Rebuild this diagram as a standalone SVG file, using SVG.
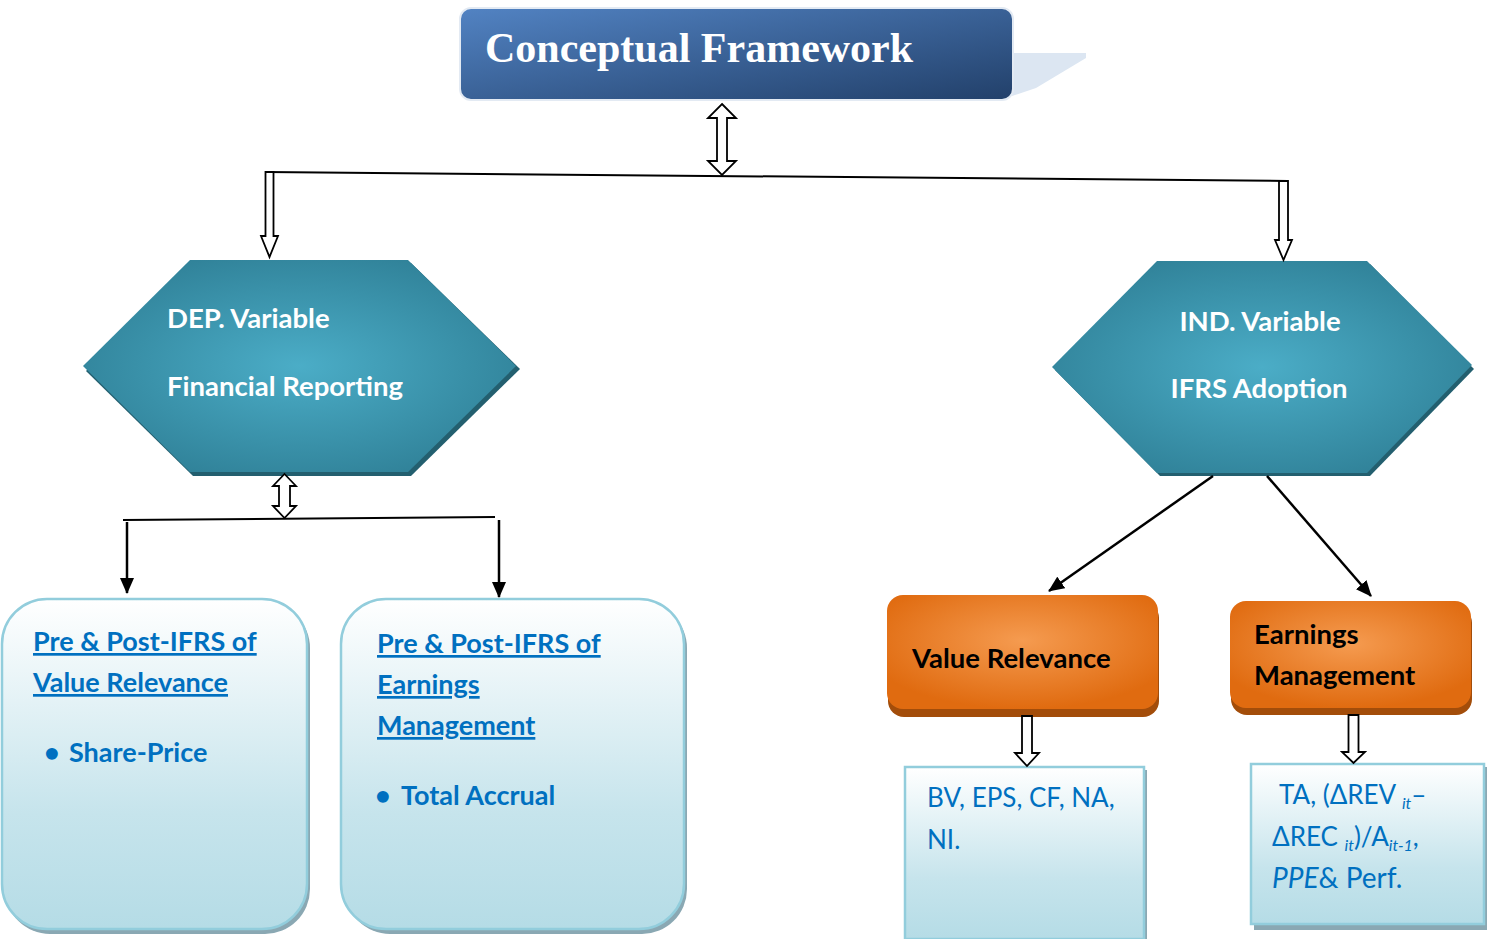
<svg xmlns="http://www.w3.org/2000/svg" width="1491" height="939" viewBox="0 0 1491 939">
<defs>
<linearGradient id="gTitle" x1="0" y1="0" x2="1" y2="1">
<stop offset="0" stop-color="#5283c3"/><stop offset="1" stop-color="#22406a"/>
</linearGradient>
<radialGradient id="gHex" cx="0.5" cy="0.5" r="0.55">
<stop offset="0" stop-color="#4badc7"/><stop offset="1" stop-color="#31839a"/>
</radialGradient>
<radialGradient id="gOr" cx="0.5" cy="0.4" r="0.6">
<stop offset="0" stop-color="#f59b50"/><stop offset="1" stop-color="#e06b10"/>
</radialGradient>
<linearGradient id="gBox" x1="0" y1="0" x2="0" y2="1">
<stop offset="0" stop-color="#ffffff"/><stop offset="0.65" stop-color="#c6e4ec"/><stop offset="1" stop-color="#b5dce6"/>
</linearGradient>
<marker id="ah" markerUnits="userSpaceOnUse" markerWidth="16" markerHeight="14" viewBox="0 0 16 14" refX="15" refY="7" orient="auto">
<path d="M0,0 L16,7 L0,14 z" fill="#000"/>
</marker>
<style>
.hex{fill:url(#gHex)}
.hexsh{fill:#235f6f}
.ht{font-family:Lato,"Open Sans",sans-serif;font-weight:bold;font-size:27.5px;fill:#ffffff}
.bt{font-family:Lato,"Open Sans",sans-serif;font-weight:bold;font-size:27px;fill:#0070c0}
.rt{font-family:Lato,"Open Sans",sans-serif;font-size:26px;fill:#0070c0}
.rt2{font-family:Lato,"Open Sans",sans-serif;font-size:28px;fill:#0070c0}
.sub{font-style:italic;font-size:16px}
.ot{font-family:Lato,"Open Sans",sans-serif;font-weight:bold;font-size:27.5px;fill:#000000}
.lbox{fill:url(#gBox);stroke:#92cddc;stroke-width:2.5}
.lsh{fill:#8aa8b3}
.orb{fill:url(#gOr)}
.orsh{fill:#a34d0a}
.hol{fill:#fff;stroke:#000;stroke-width:1.8;stroke-linejoin:miter}
.ln{fill:none;stroke:#000;stroke-width:2}
.la{fill:none;stroke:#000;stroke-width:2.5;marker-end:url(#ah)}
</style>
</defs>

<g id="title">
<path d="M1005,53 L1086,53 L1086,58 L1036,88 L1012,96 Z" fill="#dce6f2"/>
<rect x="460" y="8" width="553" height="92" rx="11" fill="url(#gTitle)" stroke="#e3eaf3" stroke-width="2"/>
<text x="485" y="62" font-family="Liberation Serif,serif" font-weight="bold" font-size="42" fill="#ffffff">Conceptual Framework</text>
</g>

<g id="dep">
<polygon class="hexsh" points="193,263 411,263 520,369 411,476 193,476 86,371"/>
<polygon class="hex" points="190,260 408,260 516,366 408,472 190,472 83,366"/>
<text class="ht" x="167" y="328">DEP. Variable</text>
<text class="ht" x="167" y="396">Financial Reporting</text>
</g>

<g id="ind">
<polygon class="hexsh" points="1160,264 1370,264 1474,369 1370,476 1160,476 1055,370"/>
<polygon class="hex" points="1157,261 1367,261 1472,365 1367,473 1157,473 1052,367"/>
<text class="ht" x="1260" y="331" text-anchor="middle">IND. Variable</text>
<text class="ht" x="1259" y="398" text-anchor="middle">IFRS Adoption</text>
</g>

<g id="box-vr">
<rect class="lsh" x="5" y="603" width="305" height="331" rx="45"/>
<rect class="lbox" x="2" y="599" width="305" height="330" rx="45"/>
<text class="bt" x="33" y="651" text-decoration="underline">Pre &amp; Post-IFRS of</text>
<text class="bt" x="33" y="692" text-decoration="underline">Value Relevance</text>
<text class="bt" x="44" y="762">•</text>
<text class="bt" x="69" y="762">Share-Price</text>
</g>

<g id="box-em">
<rect class="lsh" x="345" y="603" width="342" height="331" rx="45"/>
<rect class="lbox" x="341" y="599" width="343" height="330" rx="45"/>
<text class="bt" x="377" y="653" text-decoration="underline">Pre &amp; Post-IFRS of</text>
<text class="bt" x="377" y="694" text-decoration="underline">Earnings</text>
<text class="bt" x="377" y="735" text-decoration="underline">Management</text>
<text class="bt" x="375" y="805">•</text>
<text class="bt" x="401" y="805">Total Accrual</text>
</g>

<g id="value-relevance">
<rect class="orsh" x="888" y="602" width="271" height="115" rx="16"/>
<rect class="orb" x="887" y="595" width="271" height="114" rx="16"/>
<text class="ot" x="912" y="668">Value Relevance</text>
</g>

<g id="earnings-management">
<rect class="orsh" x="1231" y="607" width="241" height="108" rx="16"/>
<rect class="orb" x="1230" y="601" width="241" height="107" rx="16"/>
<text class="ot" x="1254" y="644">Earnings</text>
<text class="ot" x="1254" y="685">Management</text>
</g>

<g id="vr-measures">
<rect class="lsh" x="908" y="770" width="239" height="169"/>
<rect class="lbox" x="905" y="767" width="239" height="172"/>
<text class="rt" x="927" y="807">BV, EPS, CF, NA,</text>
<text class="rt" x="927" y="849">NI.</text>
</g>

<g id="em-measures">
<rect class="lsh" x="1254" y="767" width="233" height="163"/>
<rect class="lbox" x="1251" y="764" width="233" height="160"/>
<text class="rt" x="1279" y="804">TA, (ΔREV <tspan class="sub" dy="5">it</tspan><tspan dy="-5">–</tspan></text>
<text class="rt" x="1272" y="846">ΔREC <tspan class="sub" dy="5">it</tspan><tspan dy="-5">)/A</tspan><tspan class="sub" dy="5">it-1</tspan><tspan dy="-5">,</tspan></text>
<text class="rt2" x="1272" y="888"><tspan font-style="italic">PPE</tspan>&amp; Perf.</text>
</g>

<g id="connectors">
<path class="hol" d="M722,104 L736,118 L727,118 L727,161 L736,161 L722,175 L708,161 L717,161 L717,118 L708,118 Z"/>
<path class="ln" d="M266,172 L1288,181"/>
<path class="hol" d="M265.5,172 L273.5,172 L273.5,236 L278,236 L269.5,257 L261,236 L265.5,236 Z"/>
<path class="hol" d="M1279,181 L1288,181 L1288,240 L1292,240 L1283.5,260 L1275,240 L1279,240 Z"/>
<path class="hol" d="M284.5,474 L296,486 L290,486 L290,506 L296,506 L284.5,518 L273,506 L279,506 L279,486 L273,486 Z"/>
<path class="ln" d="M123,520 L495,517"/>
<path class="la" d="M127,522 L127,593"/>
<path class="la" d="M499,520 L499,597"/>
<path class="la" d="M1213,476 L1049,591"/>
<path class="la" d="M1267,476 L1371,596"/>
<path class="hol" d="M1022,716 L1032,716 L1032,753 L1039,753 L1027,766 L1015,753 L1022,753 Z"/>
<path class="hol" d="M1348.5,715 L1358.5,715 L1358.5,752 L1365,752 L1353.5,763 L1342,752 L1348.5,752 Z"/>
</g>
</svg>
